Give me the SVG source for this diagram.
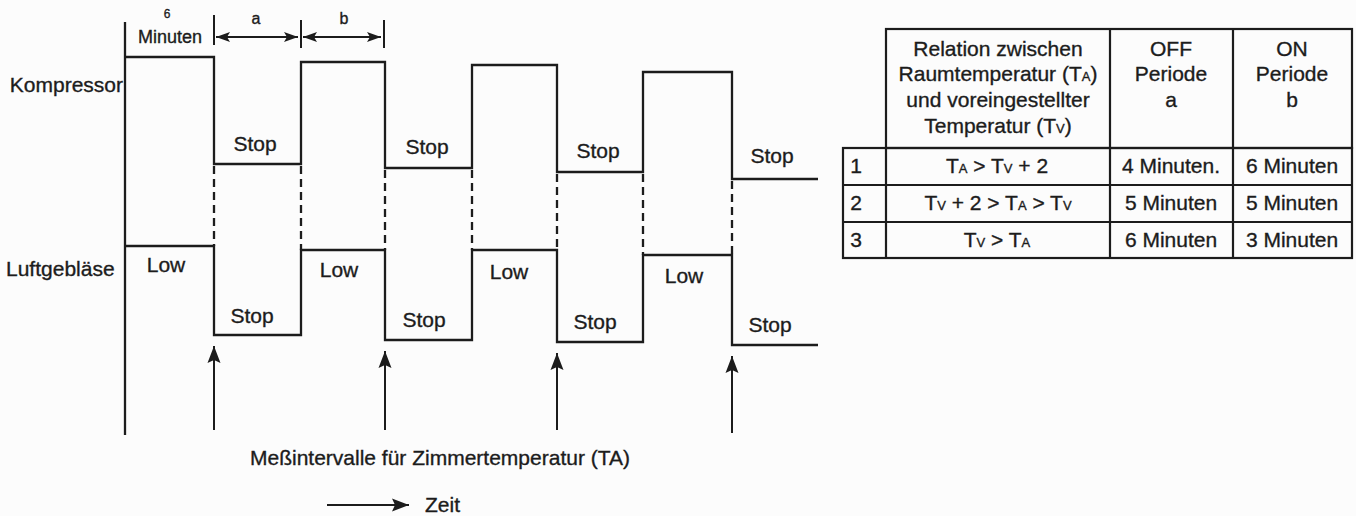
<svg xmlns="http://www.w3.org/2000/svg" width="1356" height="516" viewBox="0 0 1356 516">
<style>
text{font-family:"Liberation Sans",Arial,sans-serif;fill:#1c1c1c;stroke:#1c1c1c;stroke-width:0.35}
.lbl{font-size:21px}
.mid{text-anchor:middle}
.sig{fill:none;stroke:#1c1c1c;stroke-width:2.3}
.ln{fill:none;stroke:#1c1c1c;stroke-width:2}
.dash{fill:none;stroke:#1c1c1c;stroke-width:2.3;stroke-dasharray:8 5}
.tb{fill:none;stroke:#1c1c1c;stroke-width:2.2}
.tt{font-size:21px;text-anchor:middle}
.sub{font-size:13px}
</style>
<defs>
<marker id="ah" markerUnits="userSpaceOnUse" markerWidth="18" markerHeight="14" refX="17" refY="7" orient="auto-start-reverse" viewBox="0 0 18 14">
<path d="M0,0.5 L17,7 L0,13.5 L3,7 Z" fill="#1c1c1c"/>
</marker>
<marker id="ahs" markerUnits="userSpaceOnUse" markerWidth="15" markerHeight="11" refX="14" refY="5.5" orient="auto-start-reverse" viewBox="0 0 15 11">
<path d="M0,0.5 L14,5.5 L0,10.5 L3,5.5 Z" fill="#1c1c1c"/>
</marker>
</defs>
<rect x="0" y="0" width="1356" height="516" fill="#fcfcfc"/>

<g id="axis">
<path class="sig" d="M125,22 V435"/>
</g>

<g id="kompressor">
<text class="lbl" x="123" y="92" text-anchor="end">Kompressor</text>
<path class="sig" d="M125,57 H214 V164 H301 V62 H385 V168 H472 V65 H557 V172 H643 V72 H732 V179 H818"/>
<text class="lbl mid" x="255" y="151">Stop</text>
<text class="lbl mid" x="427" y="154">Stop</text>
<text class="lbl mid" x="598" y="158">Stop</text>
<text class="lbl mid" x="772" y="163">Stop</text>
</g>

<g id="luftgeblaese">
<text class="lbl" x="6" y="276">Luftgebläse</text>
<path class="sig" d="M125,246 H214 V335 H301 V250 H385 V340 H472 V250 H557 V342 H643 V255 H732 V345 H818"/>
<text class="lbl mid" x="166" y="272">Low</text>
<text class="lbl mid" x="339" y="277">Low</text>
<text class="lbl mid" x="509" y="279">Low</text>
<text class="lbl mid" x="684" y="283">Low</text>
<text class="lbl mid" x="252" y="323">Stop</text>
<text class="lbl mid" x="424" y="327">Stop</text>
<text class="lbl mid" x="595" y="329">Stop</text>
<text class="lbl mid" x="770" y="332">Stop</text>
</g>

<g id="periods">
<text x="167" y="18" font-size="12" class="mid">6</text>
<text x="170" y="43" font-size="18" class="mid">Minuten</text>
<text x="256" y="24" font-size="16" class="mid">a</text>
<text x="344" y="24" font-size="16" class="mid">b</text>
</g>

<g id="connectors">
<path class="ln" d="M214,15 V45 M301,20 V48 M384,20 V48"/>
<line class="ln" x1="216" y1="37" x2="298" y2="37" marker-start="url(#ahs)" marker-end="url(#ahs)"/>
<line class="ln" x1="303" y1="37" x2="381" y2="37" marker-start="url(#ahs)" marker-end="url(#ahs)"/>
<path class="dash" d="M214,166 V246 M301,166 V250 M385,170 V250 M472,170 V250 M557,174 V250 M643,174 V255 M732,181 V255"/>
<line class="ln" x1="214" y1="430" x2="214" y2="346" marker-end="url(#ah)"/>
<line class="ln" x1="385" y1="430" x2="385" y2="351" marker-end="url(#ah)"/>
<line class="ln" x1="557" y1="430" x2="557" y2="353" marker-end="url(#ah)"/>
<line class="ln" x1="732" y1="433" x2="732" y2="356" marker-end="url(#ah)"/>
<line class="ln" x1="327" y1="505" x2="409" y2="505" marker-end="url(#ah)"/>
</g>

<g id="captions">
<text class="lbl mid" x="440" y="465">Meßintervalle für Zimmertemperatur (TA)</text>
<text class="lbl" x="425" y="512">Zeit</text>
</g>

<g id="table">
<rect class="tb" x="886" y="29" width="466" height="119"/>
<rect class="tb" x="843" y="148" width="509" height="110"/>
<path class="tb" d="M886,148 V258 M1110,29 V258 M1233,29 V258 M843,185 H1352 M843,222 H1352"/>
<text class="tt" x="998" y="56">Relation zwischen</text>
<text class="tt" x="998" y="81">Raumtemperatur (T<tspan class="sub">A</tspan>)</text>
<text class="tt" x="998" y="107">und voreingestellter</text>
<text class="tt" x="998" y="133">Temperatur (T<tspan class="sub">V</tspan>)</text>
<text class="tt" x="1171" y="56">OFF</text>
<text class="tt" x="1171" y="81">Periode</text>
<text class="tt" x="1171" y="107">a</text>
<text class="tt" x="1292" y="56">ON</text>
<text class="tt" x="1292" y="81">Periode</text>
<text class="tt" x="1292" y="107">b</text>
<text class="tt" x="856" y="173">1</text>
<text class="tt" x="856" y="210">2</text>
<text class="tt" x="856" y="247">3</text>
<text class="tt" x="997" y="173">T<tspan class="sub">A</tspan>  &gt; T<tspan class="sub">V</tspan> + 2</text>
<text class="tt" x="998" y="210">T<tspan class="sub">V</tspan> + 2 &gt; T<tspan class="sub">A</tspan>  &gt; T<tspan class="sub">V</tspan></text>
<text class="tt" x="997" y="247">T<tspan class="sub">V</tspan> &gt; T<tspan class="sub">A</tspan></text>
<text class="tt" x="1171" y="173">4 Minuten.</text>
<text class="tt" x="1171" y="210">5 Minuten</text>
<text class="tt" x="1171" y="247">6 Minuten</text>
<text class="tt" x="1292" y="173">6 Minuten</text>
<text class="tt" x="1292" y="210">5 Minuten</text>
<text class="tt" x="1292" y="247">3 Minuten</text>
</g>
</svg>
